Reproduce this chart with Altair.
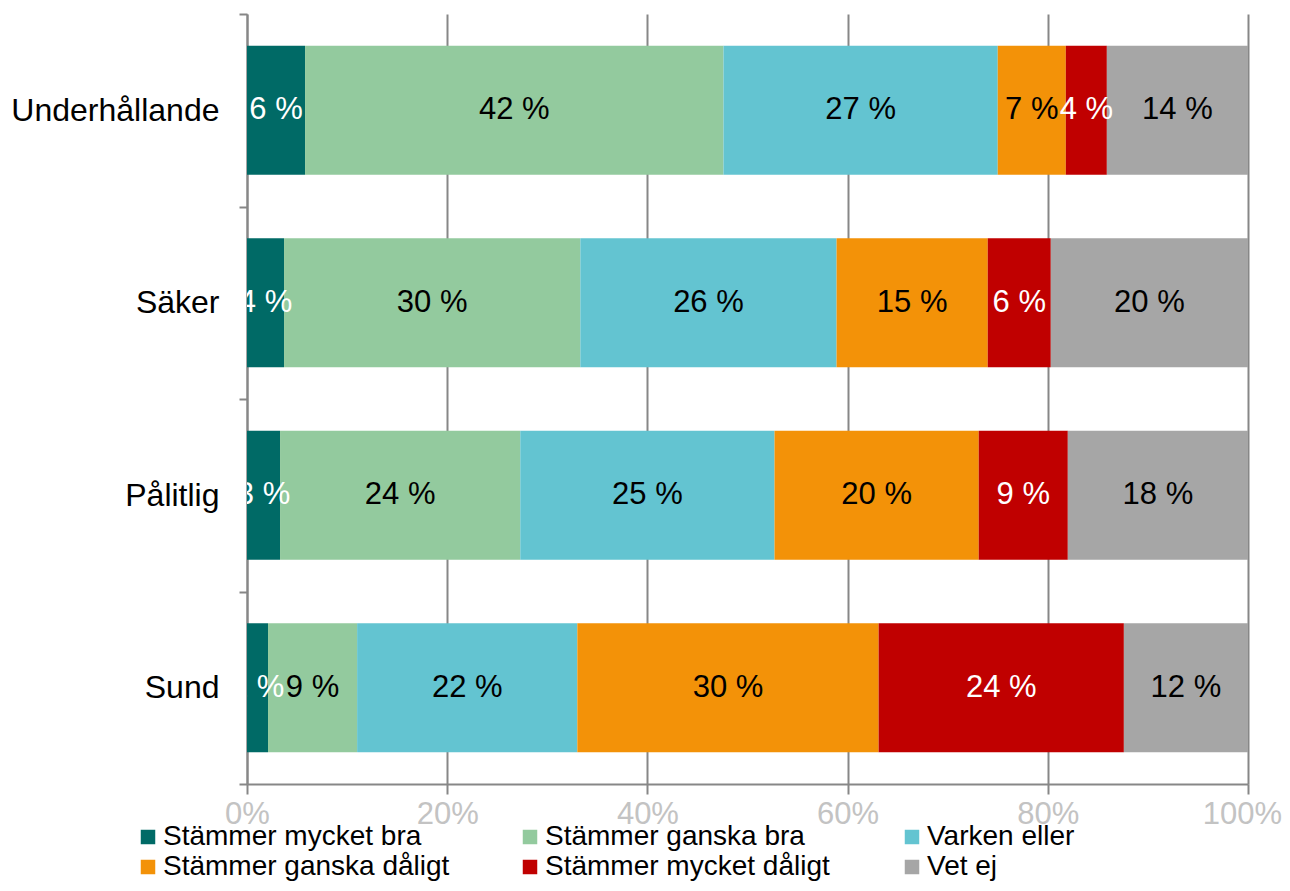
import altair as alt
import pandas as pd

categories = ["Underhållande", "Säker", "Pålitlig", "Sund"]
series = ["Stämmer mycket bra", "Stämmer ganska bra", "Varken eller",
          "Stämmer ganska dåligt", "Stämmer mycket dåligt", "Vet ej"]
colors = ["#006A66", "#93CA9E", "#63C4D1", "#F39208", "#C00000", "#A6A6A6"]

values = {
    "Underhållande": [5.8, 41.8, 27.4, 6.8, 4.1, 14.1],
    "Säker":         [3.7, 29.6, 25.6, 15.1, 6.3, 19.7],
    "Pålitlig":      [3.3, 24.0, 25.4, 20.4, 8.9, 18.0],
    "Sund":          [2.1, 8.9, 22.0, 30.1, 24.5, 12.4],
}
labels = {
    "Underhållande": [6, 42, 27, 7, 4, 14],
    "Säker":         [4, 30, 26, 15, 6, 20],
    "Pålitlig":      [3, 24, 25, 20, 9, 18],
    "Sund":          [2, 9, 22, 30, 24, 12],
}
x_ticks = [0, 20, 40, 60, 80, 100]

rows = []
for c in categories:
    for i, s in enumerate(series):
        rows.append({"category": c, "series": s, "order": i,
                     "value": values[c][i], "label": labels[c][i]})
df = pd.DataFrame(rows)

FONT = "Liberation Sans"
GRAY = "#878787"

base = alt.Chart(df).transform_stack(
    stack="value", groupby=["category"],
    sort=[alt.SortField("order", order="ascending")], as_=["x0", "x1"]
).transform_calculate(
    mid="(datum.x0 + datum.x1) / 2",
    lab="datum.label + ' %'"
)

y_enc = alt.Y("category:N", sort=categories,
              scale=alt.Scale(paddingInner=0, paddingOuter=0),
              axis=alt.Axis(title=None, labelFontSize=32, labelFont=FONT,
                            labelColor="black", tickBand="extent", tickSize=8,
                            tickColor=GRAY, tickWidth=2, domainColor=GRAY,
                            domainWidth=2, labelPadding=20, labelLimit=500,
                            grid=False))

x_scale = alt.Scale(domain=[0, 100], nice=False)
x_axis = alt.Axis(title=None, values=x_ticks, labelExpr="datum.value + '%'",
                  labelFontSize=31, labelFont=FONT, labelColor="#C3C3C3",
                  labelFlush=False, tickSize=10, tickColor=GRAY, tickWidth=2,
                  labelPadding=5,
                  labelOffset={"condition": {"test": "datum.value === 100", "value": -6},
                               "value": 0},
                  grid=True, gridColor=GRAY, gridWidth=2,
                  domainColor=GRAY, domainWidth=2)

bars = base.mark_bar(height=alt.RelativeBandSize(0.67)).encode(
    y=y_enc,
    x=alt.X("x0:Q", scale=x_scale, axis=x_axis, title=None),
    x2="x1:Q",
    color=alt.Color("series:N", scale=alt.Scale(domain=series, range=colors),
                    legend=alt.Legend(title=None, orient="none", legendX=-113,
                                      legendY=809, direction="horizontal",
                                      columns=3, symbolType="square",
                                      symbolSize=210, symbolStrokeWidth=0,
                                      labelFontSize=28, labelFont=FONT,
                                      labelColor="black", labelLimit=600,
                                      columnPadding=66, rowPadding=2,
                                      gridAlign="all", labelOffset=1)),
)

text = base.mark_text(fontSize=31, font=FONT, baseline="middle", clip=True).encode(
    y=alt.Y("category:N", sort=categories),
    x=alt.X("mid:Q", title=None),
    text="lab:N",
    color=alt.condition(
        "datum.series === 'Stämmer mycket bra' || datum.series === 'Stämmer mycket dåligt'",
        alt.value("white"), alt.value("black")),
)

chart = alt.layer(bars, text).properties(
    width=1001, height=770,
    padding={"left": 239, "top": 6, "right": 34, "bottom": 99},
    autosize=alt.AutoSizeParams(type="none"),
).configure_view(stroke=None)

chart.save("out.html", embed_options={"renderer": "svg", "actions": False})
